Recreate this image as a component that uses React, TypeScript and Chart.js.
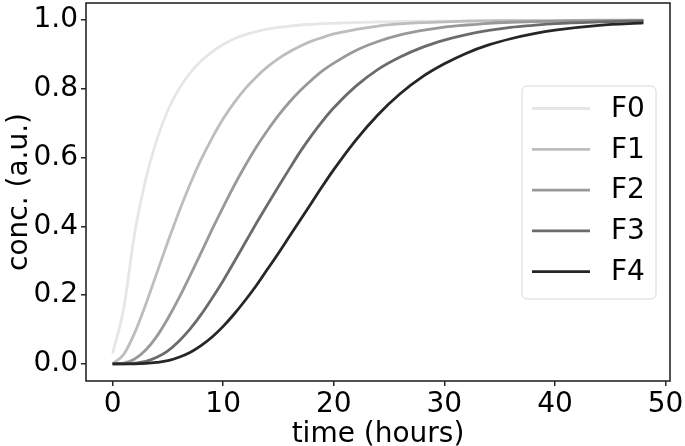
import React, { useEffect, useRef } from "react";
import { Chart, registerables } from "chart.js";

Chart.register(...registerables);

// time points (hours)
const times = [0, 1, 2, 3, 4, 5, 6, 7, 8, 9, 10, 11, 12, 13, 14, 15, 16, 17, 18, 19, 20, 22, 24, 26, 28, 30, 32, 34, 36, 38, 40, 44, 48];

const seriesLabels = ["F0", "F1", "F2", "F3", "F4"];

const f0 = [0.03, 0.16, 0.38, 0.537, 0.652, 0.738, 0.8, 0.846, 0.881, 0.908, 0.929, 0.946, 0.958, 0.967, 0.974, 0.979, 0.983, 0.986, 0.988, 0.99, 0.991, 0.993, 0.995, 0.996, 0.997, 0.997, 0.998, 0.998, 0.998, 0.998, 0.998, 0.998, 0.998];
const f1 = [0, 0.027, 0.09, 0.173, 0.264, 0.355, 0.442, 0.522, 0.594, 0.657, 0.713, 0.76, 0.801, 0.835, 0.864, 0.888, 0.908, 0.925, 0.939, 0.95, 0.96, 0.973, 0.983, 0.989, 0.993, 0.995, 0.997, 0.998, 0.999, 0.999, 0.999, 1.0, 1.0];
const f2 = [0, 0.002, 0.014, 0.04, 0.08, 0.132, 0.191, 0.256, 0.323, 0.391, 0.456, 0.519, 0.577, 0.631, 0.679, 0.723, 0.762, 0.796, 0.826, 0.853, 0.875, 0.912, 0.938, 0.957, 0.97, 0.98, 0.986, 0.991, 0.994, 0.996, 0.997, 0.999, 0.9995];
const f3 = [0, 0, 0.002, 0.007, 0.019, 0.038, 0.066, 0.101, 0.143, 0.191, 0.242, 0.297, 0.353, 0.409, 0.463, 0.516, 0.568, 0.619, 0.665, 0.707, 0.745, 0.808, 0.857, 0.893, 0.921, 0.942, 0.958, 0.97, 0.979, 0.985, 0.99, 0.995, 0.998];
const f4 = [0, 0, 0, 0.001, 0.004, 0.009, 0.019, 0.033, 0.053, 0.078, 0.109, 0.145, 0.185, 0.228, 0.275, 0.322, 0.371, 0.42, 0.469, 0.518, 0.565, 0.651, 0.725, 0.786, 0.835, 0.873, 0.904, 0.928, 0.946, 0.96, 0.971, 0.985, 0.992];

const seriesColors = ["#e6e6e6", "#bdbdbd", "#999999", "#6b6b6b", "#262626"];

const xTickValues = [0, 10, 20, 30, 40, 50];
const yTickValues = [0, 0.2, 0.4, 0.6, 0.8, 1.0];

const FONT = "'DejaVu Sans', sans-serif";
const FS = 28;

export default function App() {
  const ref = useRef<HTMLCanvasElement>(null);

  useEffect(() => {
    document.body.style.margin = "0";
    const series = [f0, f1, f2, f3, f4];

    const frame = {
      id: "frame",
      afterDatasetsDraw(chart: any) {
        const { ctx, chartArea: a } = chart;
        ctx.save();
        ctx.strokeStyle = "#262626";
        ctx.lineWidth = 1.6;
        ctx.strokeRect(a.left, a.top, a.right - a.left, a.bottom - a.top);
        ctx.restore();
      },
    };

    const boxLegend = {
      id: "boxLegend",
      afterDraw(chart: any) {
        const { ctx } = chart;
        const bx = 522, by = 86, bw = 134, bh = 213, r = 5;
        ctx.save();
        ctx.beginPath();
        ctx.moveTo(bx + r, by);
        ctx.lineTo(bx + bw - r, by);
        ctx.arcTo(bx + bw, by, bx + bw, by + r, r);
        ctx.lineTo(bx + bw, by + bh - r);
        ctx.arcTo(bx + bw, by + bh, bx + bw - r, by + bh, r);
        ctx.lineTo(bx + r, by + bh);
        ctx.arcTo(bx, by + bh, bx, by + bh - r, r);
        ctx.lineTo(bx, by + r);
        ctx.arcTo(bx, by, bx + r, by, r);
        ctx.closePath();
        ctx.fillStyle = "rgba(255,255,255,0.8)";
        ctx.fill();
        ctx.strokeStyle = "#d6d6d6";
        ctx.lineWidth = 1;
        ctx.stroke();
        ctx.font = `${FS}px ${FONT}`;
        ctx.textBaseline = "middle";
        ctx.textAlign = "left";
        chart.data.datasets.forEach((ds: any, i: number) => {
          const y = 108.5 + i * 40.8;
          ctx.strokeStyle = ds.borderColor;
          ctx.lineWidth = 2.8;
          ctx.beginPath();
          ctx.moveTo(532, y);
          ctx.lineTo(590, y);
          ctx.stroke();
          ctx.fillStyle = "#000";
          ctx.fillText(ds.label, 611, y + 1);
        });
        ctx.restore();
      },
    };

    const chart = new Chart(ref.current as HTMLCanvasElement, {
      type: "line",
      data: {
        datasets: series.map((s, i) => ({
          label: seriesLabels[i],
          data: times.map((t, j) => ({ x: t, y: s[j] })),
          borderColor: seriesColors[i],
          borderWidth: 2.8,
          pointRadius: 0,
          fill: false,
          cubicInterpolationMode: "monotone" as const,
          order: series.length - i,
        })),
      },
      options: {
        responsive: false,
        animation: false,
        devicePixelRatio: 1,
        layout: { padding: { left: 0, right: 15, top: 3, bottom: 0 } },
        plugins: { legend: { display: false }, tooltip: { enabled: false } },
        scales: {
          x: {
            type: "linear",
            min: -2.4,
            max: 50.4,
            afterBuildTicks: (s: any) => {
              s.ticks = xTickValues.map((v) => ({ value: v }));
            },
            afterFit: (s: any) => {
              s.height = 65;
              s.paddingLeft = 0;
              s.paddingRight = 0;
            },
            ticks: {
              font: { family: FONT, size: FS },
              color: "#000",
              padding: 2,
              maxRotation: 0,
              autoSkip: false,
              callback: (v: any) => String(v),
            },
            grid: {
              display: true,
              drawOnChartArea: false,
              drawTicks: true,
              tickLength: 5,
              color: "#262626",
              tickColor: "#262626",
              lineWidth: 1.5,
              tickWidth: 1.5,
            },
            border: { display: false },
            title: {
              display: true,
              text: "time (hours)",
              color: "#000",
              font: { family: FONT, size: FS, lineHeight: 1 },
              padding: { top: 0, bottom: -3 },
            },
          },
          y: {
            type: "linear",
            min: -0.05,
            max: 1.05,
            afterBuildTicks: (s: any) => {
              s.ticks = yTickValues.map((v) => ({ value: v }));
            },
            afterFit: (s: any) => {
              s.width = 86;
              s.paddingTop = 0;
              s.paddingBottom = 0;
            },
            ticks: {
              font: { family: FONT, size: FS },
              color: "#000",
              padding: 3,
              autoSkip: false,
              callback: (v: any) => Number(v).toFixed(1),
            },
            grid: {
              display: true,
              drawOnChartArea: false,
              drawTicks: true,
              tickLength: 5,
              color: "#262626",
              tickColor: "#262626",
              lineWidth: 1.5,
              tickWidth: 1.5,
            },
            border: { display: false },
            title: {
              display: true,
              text: "conc. (a.u.)",
              color: "#000",
              font: { family: FONT, size: FS, lineHeight: 1 },
              padding: { top: 6, bottom: 0 },
            },
          },
        },
      },
      plugins: [frame, boxLegend],
    });

    return () => chart.destroy();
  }, []);

  return <canvas ref={ref} width={685} height={446} style={{ display: "block" }} />;
}
